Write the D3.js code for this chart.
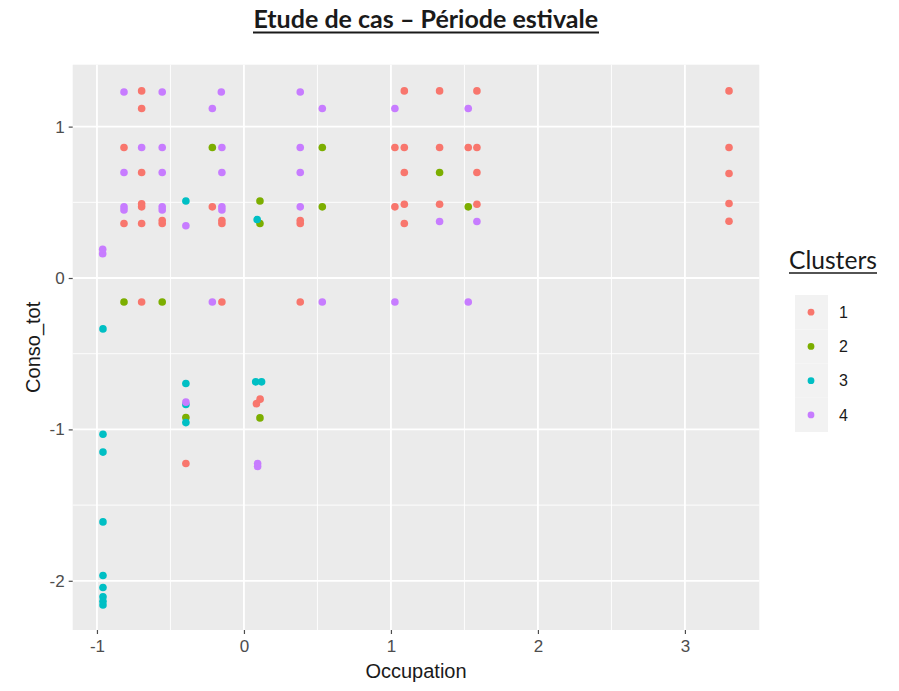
<!DOCTYPE html>
<html>
<head>
<meta charset="utf-8">
<script src="https://cdn.jsdelivr.net/npm/d3@7"></script>
<style>
  html, body { margin: 0; padding: 0; background: #ffffff; }
  svg { display: block; }
</style>
</head>
<body>
<svg id="chart" width="899" height="691"></svg>
<script>
// ---------------- data ----------------
const chartTitle = "Etude de cas – Période estivale";
const xTitle = "Occupation";
const yTitle = "Conso_tot";
const legendTitle = "Clusters";
const clusterNames = ["1", "2", "3", "4"];
const clusterColors = ["#F8766D", "#7CAE00", "#00BFC4", "#C77CFF"];
const xTicks = [-1, 0, 1, 2, 3];
const yTicks = [-2, -1, 0, 1];

// cluster 1
const occ1   = [-0.816, -0.696, -0.696, -0.696, -0.696, -0.816, -0.696, -0.556, -0.556, -0.215, -0.15, -0.15, -0.696, -0.15, 0.383, 0.383, 0.383,
                1.091, 1.331, 1.585, 1.027, 1.091, 1.331, 1.526, 1.585, 1.091, 1.585, 1.027, 1.091, 1.331, 1.585, 1.091,
                3.30, 3.30, 3.30, 3.30, 3.30, 0.085, 0.11, -0.395, -0.696];
const conso1 = [0.862, 1.236, 1.12, 0.697, 0.47, 0.36, 0.36, 0.36, 0.38, 0.47, 0.36, 0.38, -0.158, -0.158, -0.158, 0.36, 0.38,
                1.236, 1.236, 1.236, 0.862, 0.862, 0.862, 0.862, 0.862, 0.697, 0.697, 0.47, 0.487, 0.487, 0.487, 0.36,
                1.236, 0.862, 0.69, 0.492, 0.375, -0.83, -0.80, -1.225, 0.49];
// cluster 2
const occ2   = [-0.215, 0.109, 0.109, -0.816, -0.556, 0.533, 0.533, 1.331, 1.526, -0.395, 0.109];
const conso2 = [0.862, 0.509, 0.36, -0.158, -0.158, 0.862, 0.47, 0.697, 0.47, -0.921, -0.924];
// cluster 3
const occ3   = [-0.395, 0.09, -0.959, -0.395, -0.395, -0.395, 0.08, 0.12, -0.959, -0.959, -0.959, -0.959, -0.959, -0.959, -0.959, -0.959];
const conso3 = [0.509, 0.386, -0.336, -0.697, -0.835, -0.955, -0.686, -0.686, -1.032, -1.15, -1.611, -1.965, -2.044, -2.105, -2.135, -2.16];
// cluster 4
const occ4   = [-0.816, -0.556, -0.154, 0.383, -0.215, -0.696, -0.556, -0.15, 0.383, -0.816, -0.556, -0.15, 0.383,
                -0.816, -0.816, -0.556, -0.556, -0.15, -0.15, 0.383, -0.395, -0.961, -0.961, -0.215, 0.533, 1.027, 1.526,
                0.533, 1.027, 1.526, 1.331, 1.585, -0.395, 0.093, 0.093];
const conso4 = [1.229, 1.229, 1.229, 1.229, 1.12, 0.862, 0.862, 0.862, 0.862, 0.697, 0.697, 0.697, 0.697,
                0.47, 0.45, 0.47, 0.45, 0.47, 0.45, 0.47, 0.345, 0.16, 0.19, -0.158, -0.158, -0.158, -0.158,
                1.12, 1.12, 1.12, 0.373, 0.373, -0.82, -1.225, -1.245];

const occAll = [occ1, occ2, occ3, occ4];
const consoAll = [conso1, conso2, conso3, conso4];

// ---------------- layout ----------------
const svg = d3.select("#chart");
const panel = { left: 72.7, right: 759.3, top: 64.7, bottom: 630 };

const x = d3.scaleLinear().domain([-1.165, 3.506]).range([panel.left, panel.right]);
const y = d3.scaleLinear().domain([-2.325, 1.409]).range([panel.bottom, panel.top]);

// panel background
svg.append("rect")
  .attr("x", panel.left).attr("y", panel.top)
  .attr("width", panel.right - panel.left).attr("height", panel.bottom - panel.top)
  .attr("fill", "#EBEBEB");

// minor grid
const xMinor = [-0.5, 0.5, 1.5, 2.5];
const yMinor = [-1.5, -0.5, 0.5];
const grid = svg.append("g");
grid.selectAll(".xm").data(xMinor).join("line")
  .attr("x1", d => x(d)).attr("x2", d => x(d))
  .attr("y1", panel.top).attr("y2", panel.bottom)
  .attr("stroke", "#ffffff").attr("stroke-width", 0.9);
grid.selectAll(".ym").data(yMinor).join("line")
  .attr("y1", d => y(d)).attr("y2", d => y(d))
  .attr("x1", panel.left).attr("x2", panel.right)
  .attr("stroke", "#ffffff").attr("stroke-width", 0.9);
// major grid
grid.selectAll(".xM").data(xTicks).join("line")
  .attr("x1", d => x(d)).attr("x2", d => x(d))
  .attr("y1", panel.top).attr("y2", panel.bottom)
  .attr("stroke", "#ffffff").attr("stroke-width", 1.8);
grid.selectAll(".yM").data(yTicks).join("line")
  .attr("y1", d => y(d)).attr("y2", d => y(d))
  .attr("x1", panel.left).attr("x2", panel.right)
  .attr("stroke", "#ffffff").attr("stroke-width", 1.8);

// axes (hyphen-minus labels, as in the reference)
const fmt = d => String(d);
const xAxis = d3.axisBottom(x).tickValues(xTicks).tickSize(4).tickPadding(4).tickFormat(fmt);
const yAxis = d3.axisLeft(y).tickValues(yTicks).tickSize(4).tickPadding(4).tickFormat(fmt);

const gx = svg.append("g").attr("transform", `translate(0,${panel.bottom})`).call(xAxis);
const gy = svg.append("g").attr("transform", `translate(${panel.left},0)`).call(yAxis);
[gx, gy].forEach(g => {
  g.select(".domain").remove();
  g.selectAll(".tick line").attr("stroke", "#4D4D4D").attr("stroke-width", 1.2);
  g.selectAll(".tick text")
    .attr("fill", "#4D4D4D")
    .style("font-family", "'Liberation Sans', Arial, sans-serif")
    .style("font-size", "17px");
});
gx.selectAll(".tick text").attr("dy", "0.85em");

// axis titles
svg.append("text")
  .attr("x", (panel.left + panel.right) / 2).attr("y", 678)
  .attr("text-anchor", "middle")
  .attr("fill", "#1a1a1a")
  .style("font-family", "'Liberation Sans', Arial, sans-serif")
  .style("font-size", "20px")
  .text(xTitle);

svg.append("text")
  .attr("transform", `translate(40,${(panel.top + panel.bottom) / 2}) rotate(-90)`)
  .attr("text-anchor", "middle")
  .attr("fill", "#1a1a1a")
  .style("font-family", "'Liberation Sans', Arial, sans-serif")
  .style("font-size", "20px")
  .text(yTitle);

// points
const pts = svg.append("g");
occAll.forEach((occ, ci) => {
  const rows = occ.map((v, i) => ({ o: v, c: consoAll[ci][i] }));
  pts.append("g").selectAll("circle").data(rows).join("circle")
    .attr("cx", d => x(d.o))
    .attr("cy", d => y(d.c))
    .attr("r", 3.8)
    .attr("fill", clusterColors[ci]);
});

// title (fit to measured width)
function fitText(sel, targetWidth) {
  const node = sel.node();
  let fs = parseFloat(sel.style("font-size"));
  const w = node.getComputedTextLength();
  if (w > 0) { fs = fs * targetWidth / w; sel.style("font-size", fs + "px"); }
  return sel;
}

const title = svg.append("text")
  .attr("x", 425.8).attr("y", 28.3)
  .attr("text-anchor", "middle")
  .attr("fill", "#1a1a1a")
  .style("font-family", "Lato, 'Open Sans', sans-serif")
  .style("font-weight", "bold")
  .style("font-size", "22px")
  .text(chartTitle);
fitText(title, 345);
svg.append("line")
  .attr("x1", 253).attr("x2", 599).attr("y1", 32.5).attr("y2", 32.5)
  .attr("stroke", "#1a1a1a").attr("stroke-width", 2);

// legend
const lg = svg.append("g");
const lt = lg.append("text")
  .attr("x", 789).attr("y", 269.3)
  .attr("fill", "#1a1a1a")
  .style("font-family", "Lato, 'Open Sans', sans-serif")
  .style("font-size", "21px")
  .text(legendTitle);
fitText(lt, 88);
lg.append("line")
  .attr("x1", 789).attr("x2", 877).attr("y1", 273).attr("y2", 273)
  .attr("stroke", "#1a1a1a").attr("stroke-width", 1.5);

const keyY = d3.scaleBand().domain(clusterNames).range([295, 432]);
const keys = lg.selectAll(".key").data(clusterNames).join("g")
  .attr("transform", d => `translate(795,${keyY(d)})`);
keys.append("rect")
  .attr("width", 33).attr("height", keyY.bandwidth())
  .attr("fill", "#F2F2F2");
keys.append("circle")
  .attr("cx", 16).attr("cy", keyY.bandwidth() / 2)
  .attr("r", 3.4)
  .attr("fill", (d, i) => clusterColors[i]);
keys.append("text")
  .attr("x", 44).attr("y", keyY.bandwidth() / 2)
  .attr("dy", "0.36em")
  .attr("fill", "#1a1a1a")
  .style("font-family", "'Liberation Sans', Arial, sans-serif")
  .style("font-size", "16px")
  .text(d => d);
</script>
</body>
</html>
